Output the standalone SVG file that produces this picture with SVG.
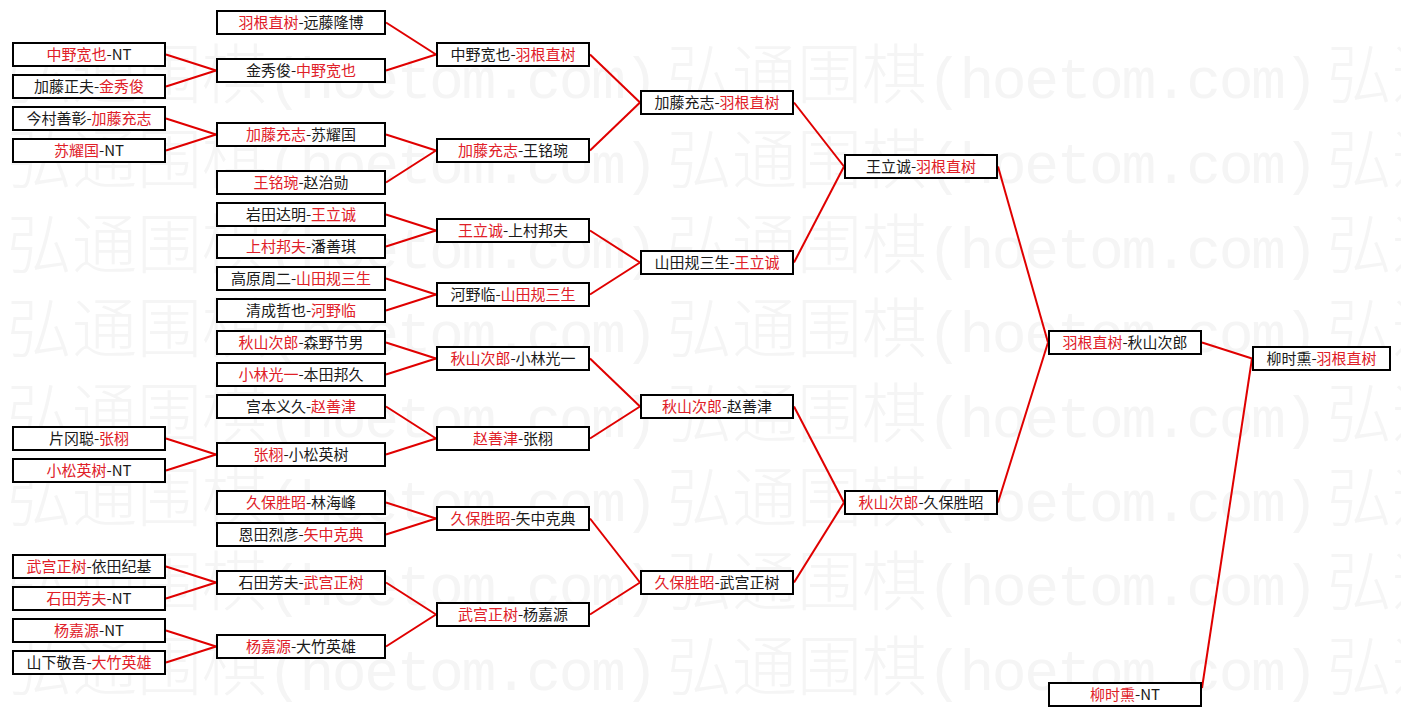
<svg xmlns="http://www.w3.org/2000/svg" width="1401" height="717" viewBox="0 0 1401 717">
<style>
.bg{fill:#ffffff}
.wm{fill:#f5f5f5}
.wc{font-family:"Noto Sans CJK SC","Noto Sans CJK JP",sans-serif;font-size:65px;font-weight:300}
.wl{font-family:"Liberation Mono",monospace;font-size:58px;letter-spacing:-2.4px}
.box{fill:#ffffff;stroke:#000000;stroke-width:2}
.t{font-family:"Noto Sans CJK SC","Noto Sans CJK JP",sans-serif;font-size:15px;fill:#1a1a1a;text-anchor:middle}
.r{fill:#e02028}
.ln{stroke:#e00000;stroke-width:2;fill:none}
</style>
<rect class="bg" x="0" y="0" width="1401" height="717"/>
<g id="watermark" class="wm">
<text y="98"><tspan class="wc" x="7">弘通围棋</tspan><tspan class="wl">(hoetom.com)</tspan><tspan class="wc" x="667">弘通围棋</tspan><tspan class="wl">(hoetom.com)</tspan><tspan class="wc" x="1327">弘通围棋</tspan><tspan class="wl">(hoetom.com)</tspan></text>
<text y="183"><tspan class="wc" x="7">弘通围棋</tspan><tspan class="wl">(hoetom.com)</tspan><tspan class="wc" x="667">弘通围棋</tspan><tspan class="wl">(hoetom.com)</tspan><tspan class="wc" x="1327">弘通围棋</tspan><tspan class="wl">(hoetom.com)</tspan></text>
<text y="268"><tspan class="wc" x="7">弘通围棋</tspan><tspan class="wl">(hoetom.com)</tspan><tspan class="wc" x="667">弘通围棋</tspan><tspan class="wl">(hoetom.com)</tspan><tspan class="wc" x="1327">弘通围棋</tspan><tspan class="wl">(hoetom.com)</tspan></text>
<text y="352"><tspan class="wc" x="7">弘通围棋</tspan><tspan class="wl">(hoetom.com)</tspan><tspan class="wc" x="667">弘通围棋</tspan><tspan class="wl">(hoetom.com)</tspan><tspan class="wc" x="1327">弘通围棋</tspan><tspan class="wl">(hoetom.com)</tspan></text>
<text y="437"><tspan class="wc" x="7">弘通围棋</tspan><tspan class="wl">(hoetom.com)</tspan><tspan class="wc" x="667">弘通围棋</tspan><tspan class="wl">(hoetom.com)</tspan><tspan class="wc" x="1327">弘通围棋</tspan><tspan class="wl">(hoetom.com)</tspan></text>
<text y="521"><tspan class="wc" x="7">弘通围棋</tspan><tspan class="wl">(hoetom.com)</tspan><tspan class="wc" x="667">弘通围棋</tspan><tspan class="wl">(hoetom.com)</tspan><tspan class="wc" x="1327">弘通围棋</tspan><tspan class="wl">(hoetom.com)</tspan></text>
<text y="605"><tspan class="wc" x="7">弘通围棋</tspan><tspan class="wl">(hoetom.com)</tspan><tspan class="wc" x="667">弘通围棋</tspan><tspan class="wl">(hoetom.com)</tspan><tspan class="wc" x="1327">弘通围棋</tspan><tspan class="wl">(hoetom.com)</tspan></text>
<text y="690"><tspan class="wc" x="7">弘通围棋</tspan><tspan class="wl">(hoetom.com)</tspan><tspan class="wc" x="667">弘通围棋</tspan><tspan class="wl">(hoetom.com)</tspan><tspan class="wc" x="1327">弘通围棋</tspan><tspan class="wl">(hoetom.com)</tspan></text>
</g>
<g id="connectors" class="ln">
<line x1="166" y1="54.5" x2="216" y2="70.5"/>
<line x1="166" y1="86.5" x2="216" y2="70.5"/>
<line x1="166" y1="118.5" x2="216" y2="134.5"/>
<line x1="166" y1="150.5" x2="216" y2="134.5"/>
<line x1="166" y1="438.5" x2="216" y2="454.5"/>
<line x1="166" y1="470.5" x2="216" y2="454.5"/>
<line x1="166" y1="566.5" x2="216" y2="582.5"/>
<line x1="166" y1="598.5" x2="216" y2="582.5"/>
<line x1="166" y1="630.5" x2="216" y2="646.5"/>
<line x1="166" y1="662.5" x2="216" y2="646.5"/>
<line x1="386" y1="22.5" x2="436" y2="54.5"/>
<line x1="386" y1="70.5" x2="436" y2="54.5"/>
<line x1="386" y1="134.5" x2="436" y2="150.5"/>
<line x1="386" y1="182.5" x2="436" y2="150.5"/>
<line x1="386" y1="214.5" x2="436" y2="230.5"/>
<line x1="386" y1="246.5" x2="436" y2="230.5"/>
<line x1="386" y1="278.5" x2="436" y2="294.5"/>
<line x1="386" y1="310.5" x2="436" y2="294.5"/>
<line x1="386" y1="342.5" x2="436" y2="358.5"/>
<line x1="386" y1="374.5" x2="436" y2="358.5"/>
<line x1="386" y1="406.5" x2="436" y2="438.5"/>
<line x1="386" y1="454.5" x2="436" y2="438.5"/>
<line x1="386" y1="502.5" x2="436" y2="518.5"/>
<line x1="386" y1="534.5" x2="436" y2="518.5"/>
<line x1="386" y1="582.5" x2="436" y2="614.5"/>
<line x1="386" y1="646.5" x2="436" y2="614.5"/>
<line x1="590" y1="54.5" x2="640" y2="102.5"/>
<line x1="590" y1="150.5" x2="640" y2="102.5"/>
<line x1="590" y1="230.5" x2="640" y2="262.5"/>
<line x1="590" y1="294.5" x2="640" y2="262.5"/>
<line x1="590" y1="358.5" x2="640" y2="406.5"/>
<line x1="590" y1="438.5" x2="640" y2="406.5"/>
<line x1="590" y1="518.5" x2="640" y2="582.5"/>
<line x1="590" y1="614.5" x2="640" y2="582.5"/>
<line x1="794" y1="102.5" x2="844" y2="166.5"/>
<line x1="794" y1="262.5" x2="844" y2="166.5"/>
<line x1="794" y1="406.5" x2="844" y2="502.5"/>
<line x1="794" y1="582.5" x2="844" y2="502.5"/>
<line x1="998" y1="166.5" x2="1048" y2="342.5"/>
<line x1="998" y1="502.5" x2="1048" y2="342.5"/>
<line x1="1202" y1="342.5" x2="1252" y2="358.5"/>
<line x1="1202" y1="688" x2="1252" y2="358.5"/>
</g>
<g id="a1"><rect class="box" x="13" y="43" width="152" height="23"/><text class="t" x="89" y="60"><tspan class="r">中野宽也</tspan>-NT</text></g>
<g id="a2"><rect class="box" x="13" y="75" width="152" height="23"/><text class="t" x="89" y="92">加藤正夫-<tspan class="r">金秀俊</tspan></text></g>
<g id="a3"><rect class="box" x="13" y="107" width="152" height="23"/><text class="t" x="89" y="124">今村善彰-<tspan class="r">加藤充志</tspan></text></g>
<g id="a4"><rect class="box" x="13" y="139" width="152" height="23"/><text class="t" x="89" y="156"><tspan class="r">苏耀国</tspan>-NT</text></g>
<g id="a5"><rect class="box" x="13" y="427" width="152" height="23"/><text class="t" x="89" y="444">片冈聪-<tspan class="r">张栩</tspan></text></g>
<g id="a6"><rect class="box" x="13" y="459" width="152" height="23"/><text class="t" x="89" y="476"><tspan class="r">小松英树</tspan>-NT</text></g>
<g id="a7"><rect class="box" x="13" y="555" width="152" height="23"/><text class="t" x="89" y="572"><tspan class="r">武宫正树</tspan>-依田纪基</text></g>
<g id="a8"><rect class="box" x="13" y="587" width="152" height="23"/><text class="t" x="89" y="604"><tspan class="r">石田芳夫</tspan>-NT</text></g>
<g id="a9"><rect class="box" x="13" y="619" width="152" height="23"/><text class="t" x="89" y="636"><tspan class="r">杨嘉源</tspan>-NT</text></g>
<g id="a10"><rect class="box" x="13" y="651" width="152" height="23"/><text class="t" x="89" y="668">山下敬吾-<tspan class="r">大竹英雄</tspan></text></g>
<g id="b1"><rect class="box" x="217" y="11" width="168" height="23"/><text class="t" x="301" y="28"><tspan class="r">羽根直树</tspan>-远藤隆博</text></g>
<g id="b2"><rect class="box" x="217" y="59" width="168" height="23"/><text class="t" x="301" y="76">金秀俊-<tspan class="r">中野宽也</tspan></text></g>
<g id="b3"><rect class="box" x="217" y="123" width="168" height="23"/><text class="t" x="301" y="140"><tspan class="r">加藤充志</tspan>-苏耀国</text></g>
<g id="b4"><rect class="box" x="217" y="171" width="168" height="23"/><text class="t" x="301" y="188"><tspan class="r">王铭琬</tspan>-赵治勋</text></g>
<g id="b5"><rect class="box" x="217" y="203" width="168" height="23"/><text class="t" x="301" y="220">岩田达明-<tspan class="r">王立诚</tspan></text></g>
<g id="b6"><rect class="box" x="217" y="235" width="168" height="23"/><text class="t" x="301" y="252"><tspan class="r">上村邦夫</tspan>-潘善琪</text></g>
<g id="b7"><rect class="box" x="217" y="267" width="168" height="23"/><text class="t" x="301" y="284">高原周二-<tspan class="r">山田规三生</tspan></text></g>
<g id="b8"><rect class="box" x="217" y="299" width="168" height="23"/><text class="t" x="301" y="316">清成哲也-<tspan class="r">河野临</tspan></text></g>
<g id="b9"><rect class="box" x="217" y="331" width="168" height="23"/><text class="t" x="301" y="348"><tspan class="r">秋山次郎</tspan>-森野节男</text></g>
<g id="b10"><rect class="box" x="217" y="363" width="168" height="23"/><text class="t" x="301" y="380"><tspan class="r">小林光一</tspan>-本田邦久</text></g>
<g id="b11"><rect class="box" x="217" y="395" width="168" height="23"/><text class="t" x="301" y="412">宫本义久-<tspan class="r">赵善津</tspan></text></g>
<g id="b12"><rect class="box" x="217" y="443" width="168" height="23"/><text class="t" x="301" y="460"><tspan class="r">张栩</tspan>-小松英树</text></g>
<g id="b13"><rect class="box" x="217" y="491" width="168" height="23"/><text class="t" x="301" y="508"><tspan class="r">久保胜昭</tspan>-林海峰</text></g>
<g id="b14"><rect class="box" x="217" y="523" width="168" height="23"/><text class="t" x="301" y="540">恩田烈彦-<tspan class="r">矢中克典</tspan></text></g>
<g id="b15"><rect class="box" x="217" y="571" width="168" height="23"/><text class="t" x="301" y="588">石田芳夫-<tspan class="r">武宫正树</tspan></text></g>
<g id="b16"><rect class="box" x="217" y="635" width="168" height="23"/><text class="t" x="301" y="652"><tspan class="r">杨嘉源</tspan>-大竹英雄</text></g>
<g id="c1"><rect class="box" x="437" y="43" width="152" height="23"/><text class="t" x="513" y="60">中野宽也-<tspan class="r">羽根直树</tspan></text></g>
<g id="c2"><rect class="box" x="437" y="139" width="152" height="23"/><text class="t" x="513" y="156"><tspan class="r">加藤充志</tspan>-王铭琬</text></g>
<g id="c3"><rect class="box" x="437" y="219" width="152" height="23"/><text class="t" x="513" y="236"><tspan class="r">王立诚</tspan>-上村邦夫</text></g>
<g id="c4"><rect class="box" x="437" y="283" width="152" height="23"/><text class="t" x="513" y="300">河野临-<tspan class="r">山田规三生</tspan></text></g>
<g id="c5"><rect class="box" x="437" y="347" width="152" height="23"/><text class="t" x="513" y="364"><tspan class="r">秋山次郎</tspan>-小林光一</text></g>
<g id="c6"><rect class="box" x="437" y="427" width="152" height="23"/><text class="t" x="513" y="444"><tspan class="r">赵善津</tspan>-张栩</text></g>
<g id="c7"><rect class="box" x="437" y="507" width="152" height="23"/><text class="t" x="513" y="524"><tspan class="r">久保胜昭</tspan>-矢中克典</text></g>
<g id="c8"><rect class="box" x="437" y="603" width="152" height="23"/><text class="t" x="513" y="620"><tspan class="r">武宫正树</tspan>-杨嘉源</text></g>
<g id="d1"><rect class="box" x="641" y="91" width="152" height="23"/><text class="t" x="717" y="108">加藤充志-<tspan class="r">羽根直树</tspan></text></g>
<g id="d2"><rect class="box" x="641" y="251" width="152" height="23"/><text class="t" x="717" y="268">山田规三生-<tspan class="r">王立诚</tspan></text></g>
<g id="d3"><rect class="box" x="641" y="395" width="152" height="23"/><text class="t" x="717" y="412"><tspan class="r">秋山次郎</tspan>-赵善津</text></g>
<g id="d4"><rect class="box" x="641" y="571" width="152" height="23"/><text class="t" x="717" y="588"><tspan class="r">久保胜昭</tspan>-武宫正树</text></g>
<g id="e1"><rect class="box" x="845" y="155" width="152" height="23"/><text class="t" x="921" y="172">王立诚-<tspan class="r">羽根直树</tspan></text></g>
<g id="e2"><rect class="box" x="845" y="491" width="152" height="23"/><text class="t" x="921" y="508"><tspan class="r">秋山次郎</tspan>-久保胜昭</text></g>
<g id="f1"><rect class="box" x="1049" y="331" width="152" height="23"/><text class="t" x="1125" y="348"><tspan class="r">羽根直树</tspan>-秋山次郎</text></g>
<g id="f2"><rect class="box" x="1049" y="683" width="152" height="23"/><text class="t" x="1125" y="700"><tspan class="r">柳时熏</tspan>-NT</text></g>
<g id="g1"><rect class="box" x="1253" y="347" width="137" height="23"/><text class="t" x="1321.5" y="364">柳时熏-<tspan class="r">羽根直树</tspan></text></g>
</svg>
